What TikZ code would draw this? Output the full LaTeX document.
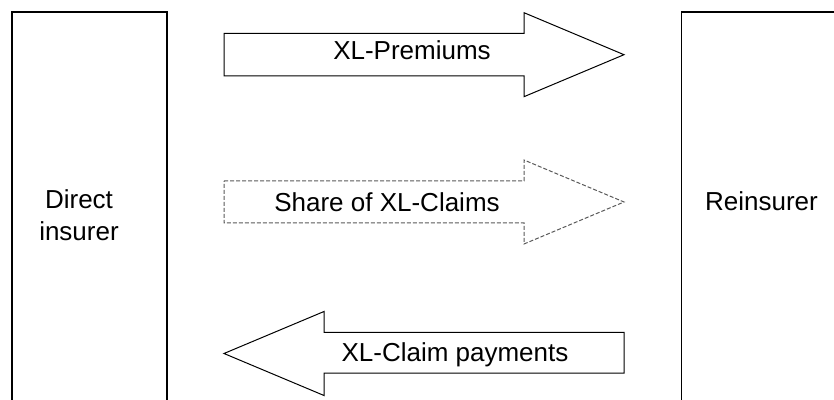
\documentclass[tikz,border=0pt]{standalone}
\usepackage{fontspec}
\setmainfont{Liberation Sans}
\usepackage{tikz}
\usetikzlibrary{positioning}

\begin{document}
\begin{tikzpicture}[x=0.5pt,y=-0.5pt,
    partybox/.style={draw=black, line width=0.75pt, inner sep=0pt, minimum height=204pt},
    flowtext/.style={font=\fontsize{13}{16}\selectfont, inner sep=0pt, anchor=base, align=center},
    flowarrow/.style={draw=black, line width=0.5pt},
    dashedarrow/.style={draw=black!65, line width=0.5pt, dash pattern=on 2pt off 1pt}]
    \useasboundingbox (0,0) rectangle (834,400);
    \clip (0,0) rectangle (834,400);
    \node[partybox, minimum width=77.5pt] (D) at (89.5,216) {};
    \node[partybox, minimum width=80pt] (R) at (761.7,216) {};
    \node[flowtext] (Dtext) at (79,241) {Direct\\insurer};
    \node[flowtext] (Rtext) at (761.5,211) {Reinsurer};
    % premiums: direct insurer -> reinsurer
    \draw[flowarrow] (224,33.5) -- (524,33.5) -- (524,12.7) -- (624,54.7)
        -- (524,96.7) -- (524,75.9) -- (224,75.9) -- cycle;
    \node[flowtext] (P) at (412,60) {XL-Premiums};
    % share of claims
    \draw[dashedarrow] (224,181) -- (524,181) -- (524,160) -- (624,202)
        -- (524,244) -- (524,223) -- (224,223) -- cycle;
    \node[flowtext] (S) at (387,212) {Share of XL-Claims};
    % claim payments: reinsurer -> direct insurer
    \draw[flowarrow] (624,332.5) -- (324,332.5) -- (324,311.5) -- (224,353.5)
        -- (324,395.5) -- (324,373) -- (624,373) -- cycle;
    \node[flowtext] (C) at (455,361) {XL-Claim payments};
\end{tikzpicture}
\end{document}
